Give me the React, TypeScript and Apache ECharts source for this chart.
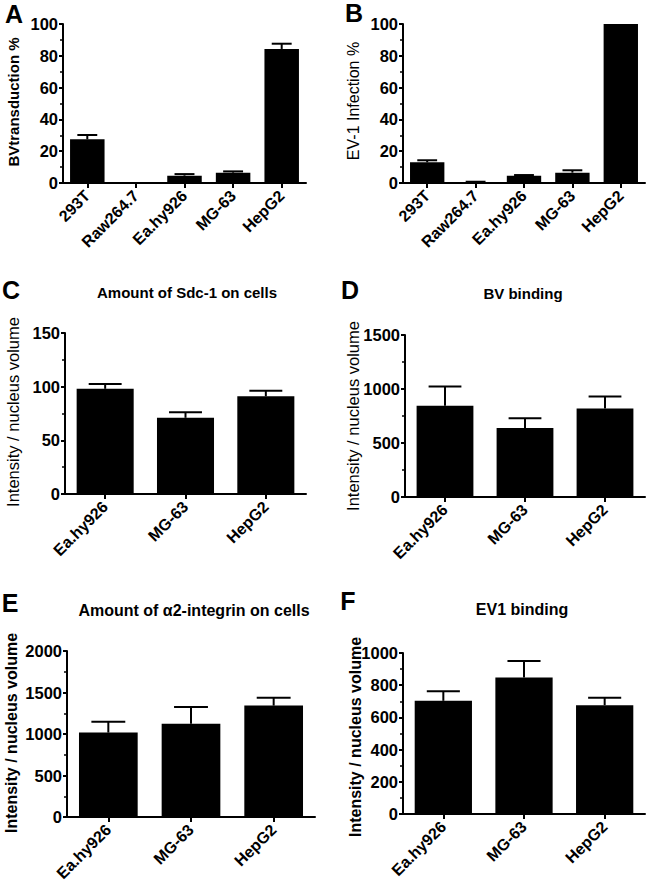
import React, { useEffect, useRef } from "react";
import * as echarts from "echarts";

// ---- data ----
const cellLinesAB = ["293T", "Raw264.7", "Ea.hy926", "MG-63", "HepG2"];
const cellLinesCF = ["Ea.hy926", "MG-63", "HepG2"];

const bvTransductionMean = [27.5, 0, 4.6, 6.5, 84.3];
const bvTransductionErr = [2.7, 0, 1.0, 0.8, 3.3];

const ev1InfectionMean = [13.0, 0.6, 4.6, 6.5, 100];
const ev1InfectionErr = [1.3, 0.2, 0.4, 1.5, 0];

const sdc1Mean = [98, 71, 91];
const sdc1Err = [4.4, 5.2, 5.3];

const bvBindingMean = [846, 638, 819];
const bvBindingErr = [176, 92, 111];

const a2IntegrinMean = [1017, 1125, 1342];
const a2IntegrinErr = [132, 200, 96];

const ev1BindingMean = [703, 848, 676];
const ev1BindingErr = [60, 102, 46];

const FONT = '"Liberation Sans", Arial, Helvetica, sans-serif';

type Panel = {
  cats: string[];
  mean: number[];
  err: number[];
  max: number;
  interval: number;
  minor: number;
  grid: { left: number; top: number; width: number; height: number };
  yName: string;
  yNameWeight: string;
  yNameSize: number;
  yNamePos: [number, number];
  letter: string;
  letterPos: [number, number];
  title?: string;
  titleSize?: number;
  titlePos?: [number, number];
};

const panels: Panel[] = [
  {
    cats: cellLinesAB, mean: bvTransductionMean, err: bvTransductionErr,
    max: 100, interval: 20, minor: 2,
    grid: { left: 63, top: 24, width: 243, height: 159 },
    yName: "BVtransduction %", yNameWeight: "bold", yNameSize: 15, yNamePos: [13, 102],
    letter: "A", letterPos: [14, 14],
  },
  {
    cats: cellLinesAB, mean: ev1InfectionMean, err: ev1InfectionErr,
    max: 100, interval: 20, minor: 2,
    grid: { left: 403, top: 24, width: 242, height: 159 },
    yName: "EV-1 Infection %", yNameWeight: "normal", yNameSize: 16, yNamePos: [353, 101],
    letter: "B", letterPos: [354, 13],
  },
  {
    cats: cellLinesCF, mean: sdc1Mean, err: sdc1Err,
    max: 150, interval: 50, minor: 2,
    grid: { left: 65, top: 333, width: 241, height: 161 },
    yName: "Intensity / nucleus volume", yNameWeight: "normal", yNameSize: 16.5, yNamePos: [13, 412],
    letter: "C", letterPos: [11, 290],
    title: "Amount of Sdc-1 on cells", titleSize: 15, titlePos: [187, 292],
  },
  {
    cats: cellLinesCF, mean: bvBindingMean, err: bvBindingErr,
    max: 1500, interval: 500, minor: 2,
    grid: { left: 405, top: 335, width: 240, height: 162 },
    yName: "Intensity / nucleus volume", yNameWeight: "normal", yNameSize: 16.5, yNamePos: [353, 416],
    letter: "D", letterPos: [350, 290],
    title: "BV binding", titleSize: 15, titlePos: [523, 293],
  },
  {
    cats: cellLinesCF, mean: a2IntegrinMean, err: a2IntegrinErr,
    max: 2000, interval: 500, minor: 2,
    grid: { left: 67, top: 651, width: 248, height: 166 },
    yName: "Intensity / nucleus volume", yNameWeight: "bold", yNameSize: 16, yNamePos: [11, 733],
    letter: "E", letterPos: [10, 603],
    title: "Amount of \u03b12-integrin on cells", titleSize: 16, titlePos: [194, 610],
  },
  {
    cats: cellLinesCF, mean: ev1BindingMean, err: ev1BindingErr,
    max: 1000, interval: 200, minor: 2,
    grid: { left: 403, top: 653, width: 242, height: 161 },
    yName: "Intensity / nucleus volume", yNameWeight: "bold", yNameSize: 16, yNamePos: [355, 737],
    letter: "F", letterPos: [348, 601],
    title: "EV1 binding", titleSize: 16, titlePos: [522, 609],
  },
];

const BAR_FRAC = 0.71;
const CAP_FRAC = 0.41;

function errorRender(params: any, api: any) {
  const x = api.value(0);
  const m = api.value(1);
  const e = api.value(2);
  if (!e || e <= 0) return { type: "group", children: [] };
  const base = api.coord([x, m]);
  const top = api.coord([x, m + e]);
  const band = api.size([1, 0])[0];
  const half = (band * CAP_FRAC) / 2;
  return {
    type: "group",
    children: [
      {
        type: "line",
        shape: { x1: base[0], y1: base[1], x2: top[0], y2: top[1] },
        style: { stroke: "#000", lineWidth: 2 },
      },
      {
        type: "line",
        shape: { x1: base[0] - half, y1: top[1], x2: base[0] + half, y2: top[1] },
        style: { stroke: "#000", lineWidth: 2 },
      },
    ],
  };
}

function buildOption() {
  const grid: any[] = [];
  const xAxis: any[] = [];
  const yAxis: any[] = [];
  const series: any[] = [];
  const graphic: any[] = [];

  panels.forEach((p, i) => {
    grid.push({ ...p.grid, containLabel: false, outerBoundsMode: "none" });
    xAxis.push({
      type: "category",
      gridIndex: i,
      data: p.cats,
      axisLine: { show: true, lineStyle: { color: "#000", width: 2 } },
      axisTick: { show: true, alignWithLabel: true, length: 5, lineStyle: { color: "#000", width: 2 } },
      axisLabel: {
        interval: 0,
        rotate: 45,
        margin: 10,
        color: "#000",
        fontFamily: FONT,
        fontWeight: "bold",
        fontSize: 16,
        hideOverlap: false,
      },
      splitLine: { show: false },
    });
    yAxis.push({
      type: "value",
      gridIndex: i,
      min: 0,
      max: p.max,
      interval: p.interval,
      axisLine: { show: true, lineStyle: { color: "#000", width: 2 } },
      axisTick: { show: true, length: 4, lineStyle: { color: "#000", width: 2 } },
      minorTick: { show: true, splitNumber: p.minor, length: 3, lineStyle: { color: "#000", width: 1.5 } },
      splitLine: { show: false },
      minorSplitLine: { show: false },
      axisLabel: {
        margin: 5,
        color: "#000",
        fontFamily: FONT,
        fontWeight: "bold",
        fontSize: 16.5,
        formatter: (v: number) => String(v),
      },
    });
    series.push({
      type: "bar",
      xAxisIndex: i,
      yAxisIndex: i,
      data: p.mean,
      barWidth: `${BAR_FRAC * 100}%`,
      itemStyle: { color: "#000" },
      silent: true,
    });
    series.push({
      type: "custom",
      xAxisIndex: i,
      yAxisIndex: i,
      renderItem: errorRender,
      data: p.mean.map((m, k) => [k, m, p.err[k]]),
      encode: { x: 0, y: 1 },
      z: 5,
      silent: true,
    });

    graphic.push({
      type: "text",
      x: p.letterPos[0],
      y: p.letterPos[1],
      style: {
        text: p.letter,
        fill: "#000",
        font: `bold 25px ${FONT}`,
        align: "center",
        verticalAlign: "middle",
      },
    });
    graphic.push({
      type: "text",
      x: p.yNamePos[0],
      y: p.yNamePos[1],
      rotation: Math.PI / 2,
      style: {
        text: p.yName,
        fill: "#000",
        font: `${p.yNameWeight} ${p.yNameSize}px ${FONT}`,
        align: "center",
        verticalAlign: "middle",
      },
    });
    if (p.title && p.titlePos) {
      graphic.push({
        type: "text",
        x: p.titlePos[0],
        y: p.titlePos[1],
        style: {
          text: p.title,
          fill: "#000",
          font: `bold ${p.titleSize}px ${FONT}`,
          align: "center",
          verticalAlign: "middle",
        },
      });
    }
  });

  return {
    animation: false,
    backgroundColor: "#fff",
    grid,
    xAxis,
    yAxis,
    series,
    graphic,
  };
}

export default function App() {
  const ref = useRef<HTMLDivElement>(null);
  useEffect(() => {
    if (!ref.current) return;
    const chart = echarts.init(ref.current, undefined, { renderer: "svg" });
    chart.setOption(buildOption() as any);
    return () => chart.dispose();
  }, []);
  return (
    <div
      ref={ref}
      style={{ position: "absolute", left: 0, top: 0, width: 650, height: 886, background: "#fff" }}
    />
  );
}
